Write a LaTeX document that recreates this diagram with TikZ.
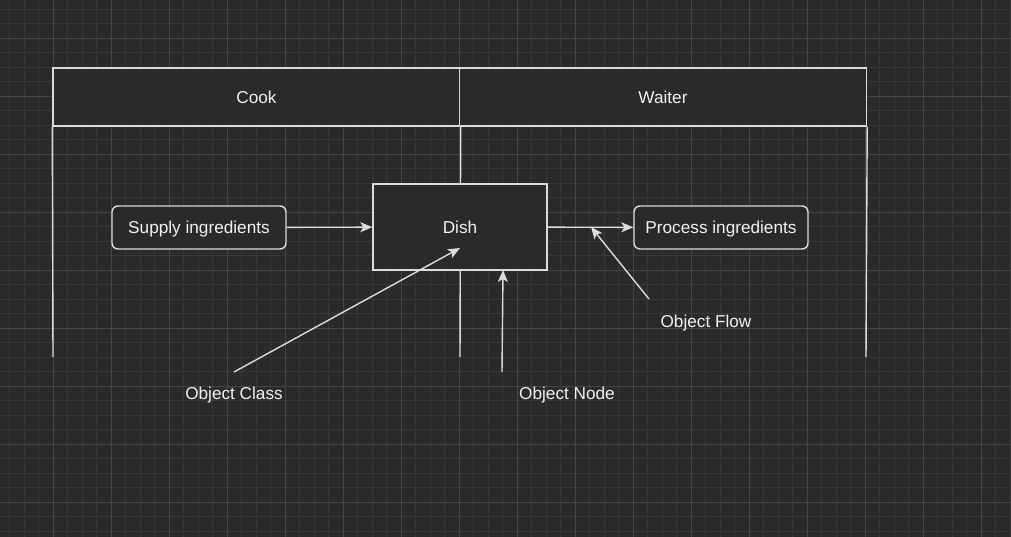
\documentclass[tikz,border=0pt]{standalone}
\usepackage{fontspec}
\setmainfont{Liberation Sans}
\usetikzlibrary{arrows.meta}
\definecolor{bg}{HTML}{2A2A2A}
\definecolor{gridminor}{HTML}{383838}
\definecolor{gridmajor}{HTML}{454545}
\definecolor{ln}{HTML}{DCDCDC}
\definecolor{tx}{HTML}{F2F2F2}
\tikzset{
  txt/.style={text=tx, font=\fontsize{17.2}{20}\selectfont, text height=12.3pt, text depth=0pt},
  base/.style={txt, draw=ln, line width=1.4pt, fill=bg, inner sep=0pt},
  actbox/.style={base, rounded corners=6pt, minimum width=174pt, minimum height=43pt},
  objbox/.style={base, minimum width=174pt, minimum height=86pt},
  lanehead/.style={base, minimum width=407pt, minimum height=58pt},
  lbl/.style={txt, inner sep=0pt},
  lane/.style={draw=ln, line width=1.4pt},
  flow/.style={draw=ln, line width=1.4pt, -{Stealth[length=12pt, width=10pt, inset=3pt]}}
}
\begin{document}
\begin{tikzpicture}[x=1pt, y=-1pt]
\useasboundingbox (0,0) rectangle (1011,537);
\fill[bg] (0,0) rectangle (1011,537);
% grid
\foreach \i in {0,...,70} {
  \draw[gridminor, line width=0.8pt] ({-5+14.5*\i},0) -- ({-5+14.5*\i},537);
}
\foreach \i in {0,...,38} {
  \draw[gridminor, line width=0.8pt] (0,{-20+14.5*\i}) -- (1011,{-20+14.5*\i});
}
\foreach \i in {0,...,18} {
  \draw[gridmajor, line width=0.9pt] ({-5+58*\i},0) -- ({-5+58*\i},537);
}
\foreach \i in {0,...,10} {
  \draw[gridmajor, line width=0.9pt] (0,{-20+58*\i}) -- (1011,{-20+58*\i});
}
% pool
\node[lanehead] (cook) at (256.5,97) {Cook};
\node[lanehead] (waiter) at (663,97) {Waiter};
\coordinate (lb1) at (53,357);
\coordinate (lb2) at (460,357);
\coordinate (lb3) at (866,357);
\draw[lane] (cook.south west) -- (lb1);
\draw[lane] (cook.south east) -- (lb2);
\draw[lane] (waiter.south east) -- (lb3);
% nodes
\node[objbox] (dish) at (460,227) {Dish};
\node[actbox] (supply) at (199,227.5) {Supply ingredients};
\node[actbox] (process) at (721,227.5) {Process ingredients};
\draw[flow] (supply) -- (dish);
\draw[flow] (dish) -- (process);
% annotations
\node[lbl] (oclass) at (234,393) {Object Class};
\node[lbl] (onode) at (567,393) {Object Node};
\node[lbl] (oflow) at (706,321) {Object Flow};
\coordinate (ocs) at (234,372);
\coordinate (oce) at (460,248);
\coordinate (ons) at (502,372);
\coordinate (one) at (503,270);
\coordinate (ofs) at (649,299);
\coordinate (ofe) at (591,227);
\draw[flow] (ocs) -- (oce);
\draw[flow] (ons) -- (one);
\draw[flow] (ofs) -- (ofe);
\end{tikzpicture}
\end{document}
